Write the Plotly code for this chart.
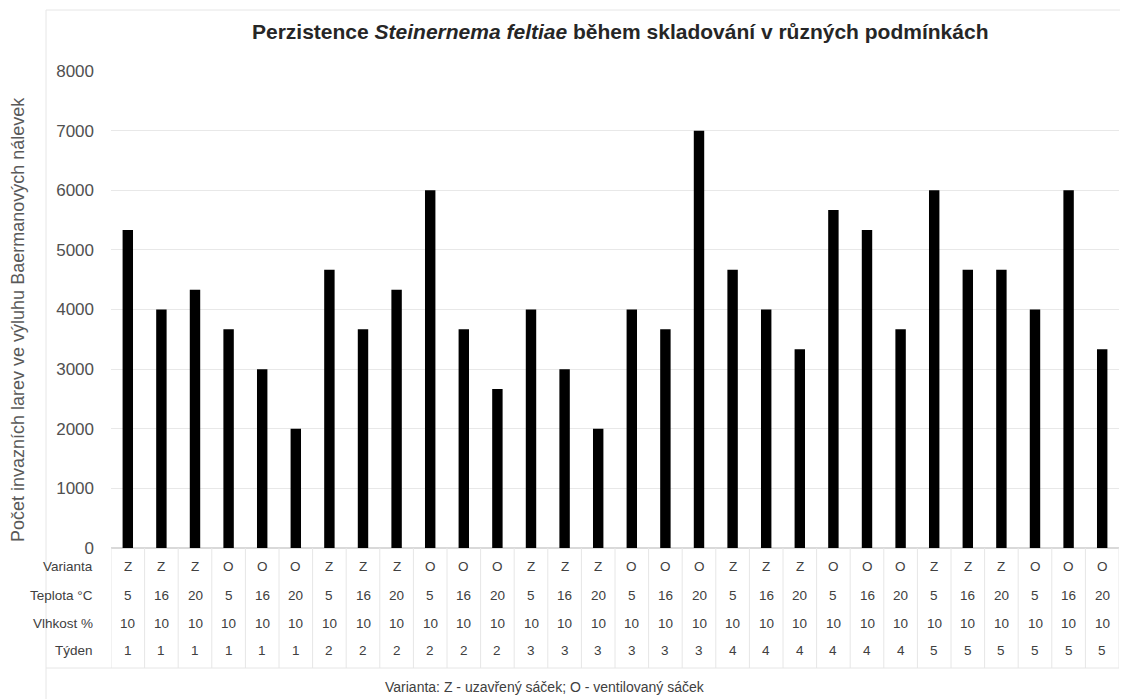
import plotly.graph_objects as go

values = [5333, 4000, 4333, 3667, 3000, 2000, 4667, 3667, 4333, 6000,
          3667, 2667, 4000, 3000, 2000, 4000, 3667, 7000, 4667, 4000,
          3333, 5667, 5333, 3667, 6000, 4667, 4667, 4000, 6000, 3333]
varianta = ["Z", "Z", "Z", "O", "O", "O"] * 5
teplota = ["5", "16", "20"] * 10
vlhkost = ["10"] * 30
tyden = [str(w) for w in [1] * 6 + [2] * 6 + [3] * 6 + [4] * 6 + [5] * 6]
row_labels = ["Varianta", "Teplota °C", "Vlhkost %", "Týden"]
rows = [varianta, teplota, vlhkost, tyden]
y_ticks = [0, 1000, 2000, 3000, 4000, 5000, 6000, 7000, 8000]

title = "<b>Perzistence <i>Steinernema feltiae</i> během skladování v různých podmínkách</b>"
y_title = "Počet invazních larev ve výluhu Baermanových nálevek"
footnote = "Varianta: Z - uzavřený sáček; O - ventilovaný sáček"

OFF = 8  # page body margin
W, H = 1120, 691
L, R, T, B = 103, 9, 63, 151
PW, PH = W - L - R, H - T - B

def px(x):
    return (x - OFF - L) / PW

def py(y):
    return (H - B - (y - OFF)) / PH

FONT = "Liberation Sans, Arial, sans-serif"
n = len(values)
xs = list(range(n))

fig = go.Figure()
fig.add_trace(go.Bar(x=xs, y=values, marker=dict(color="black", line=dict(width=0)),
                     width=0.31, showlegend=False, hoverinfo="y"))

annotations = []
shapes = []
row_y = [566, 595, 623, 651]
for r, (lab, vals) in enumerate(zip(row_labels, rows)):
    annotations.append(dict(x=px(95), y=py(row_y[r]), xref="paper", yref="paper",
                            text=lab, showarrow=False, xanchor="right", yanchor="middle",
                            font=dict(family=FONT, size=13.5, color="#404040")))
    for i, v in enumerate(vals):
        annotations.append(dict(x=xs[i], y=py(row_y[r]), xref="x", yref="paper",
                                text=v, showarrow=False, xanchor="center", yanchor="middle",
                                font=dict(family=FONT, size=13.5, color="#404040")))

table_bottom = py(668)
line_col = "#e6e6e6"
for i in range(n + 1):
    shapes.append(dict(type="line", xref="x", yref="paper", x0=i - 0.5, x1=i - 0.5,
                       y0=0, y1=table_bottom, line=dict(color=line_col, width=1)))
shapes.append(dict(type="line", xref="paper", yref="paper", x0=px(46), x1=1,
                   y0=table_bottom, y1=table_bottom, line=dict(color=line_col, width=1)))
# outer chart border
shapes.append(dict(type="rect", xref="paper", yref="paper", x0=px(46), x1=px(1121),
                   y0=py(712), y1=py(10), line=dict(color="#e6e6e6", width=1),
                   fillcolor="rgba(0,0,0,0)", layer="below"))

annotations.append(dict(x=px(620), y=py(31), xref="paper", yref="paper", text=title,
                        showarrow=False, xanchor="center", yanchor="middle",
                        font=dict(family=FONT, size=21, color="#262626")))
annotations.append(dict(x=px(18), y=py(320), xref="paper", yref="paper", text=y_title,
                        showarrow=False, xanchor="center", yanchor="middle", textangle=-90,
                        font=dict(family=FONT, size=18, color="#595959")))
annotations.append(dict(x=px(545), y=py(687), xref="paper", yref="paper", text=footnote,
                        showarrow=False, xanchor="center", yanchor="middle",
                        font=dict(family=FONT, size=14, color="#404040")))

fig.update_layout(
    width=W, height=H,
    margin=dict(l=L, r=R, t=T, b=B),
    paper_bgcolor="white", plot_bgcolor="white",
    xaxis=dict(range=[-0.5, n - 0.5], showticklabels=False, showgrid=False,
               zeroline=False, showline=False, ticks=""),
    yaxis=dict(range=[0, 8000], tickvals=y_ticks, showgrid=True, gridcolor="#e8e8e8",
               gridwidth=1, zeroline=True, zerolinecolor="#d9d9d9", showline=False,
               ticklabelstandoff=16,
               tickfont=dict(family=FONT, size=17, color="#505050")),
    annotations=annotations,
    shapes=shapes,
    bargap=0.69,
)

fig.write_html("out.html")
